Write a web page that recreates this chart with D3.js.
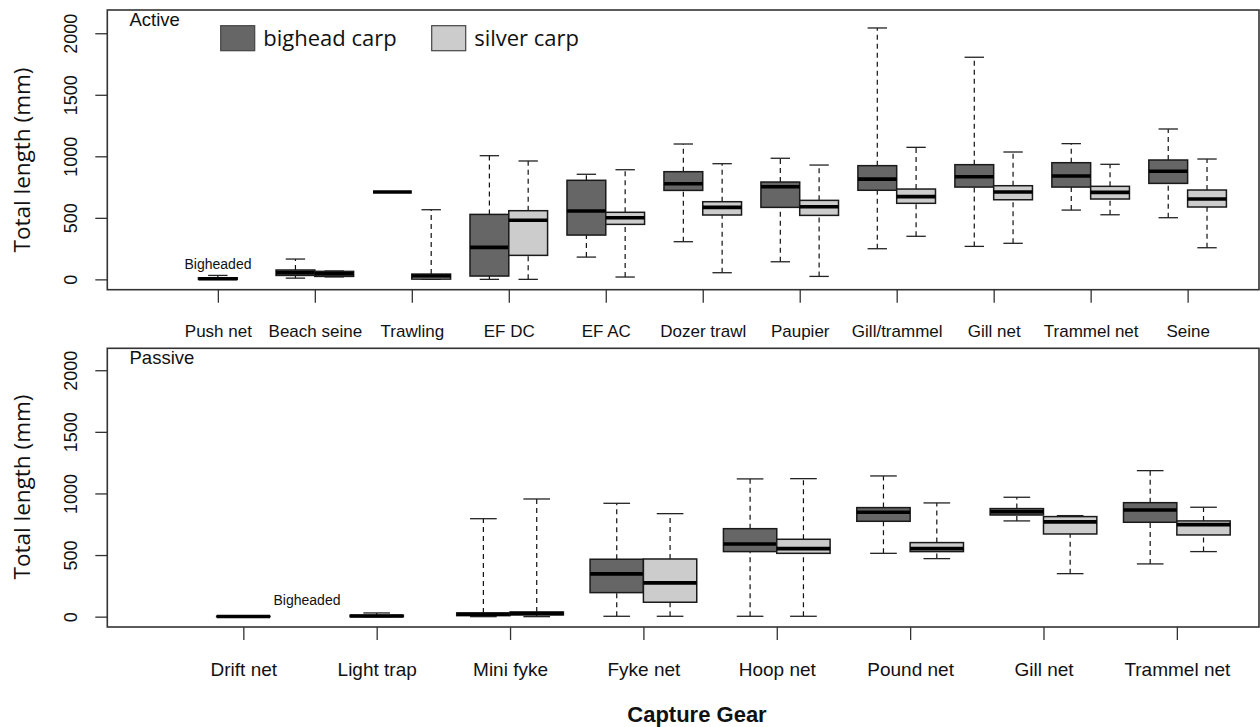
<!DOCTYPE html>
<html>
<head>
<meta charset="utf-8">
<script src="https://cdn.jsdelivr.net/npm/d3@7"></script>
<style>
  body { margin: 0; background: #fff; }
  svg { display: block; }
  .lab { font-family: "Liberation Sans", Arial, sans-serif; fill: #111; }
</style>
</head>
<body>
<svg id="chart" width="1260" height="727"></svg>
<script>
// stats are [lower whisker, Q1, median, Q3, upper whisker] in mm
var activeGear = ['Push net', 'Beach seine', 'Trawling', 'EF DC', 'EF AC', 'Dozer trawl',
                  'Paupier', 'Gill/trammel', 'Gill net', 'Trammel net', 'Seine'];
var activeBighead = [null, [10, 32, 54, 76, 165], [710, 710, 710, 710, 710], [0, 27, 260, 528, 1005],
                     [181, 360, 555, 805, 854], [306, 723, 777, 875, 1100], [143, 585, 753, 791, 984],
                     [249, 724, 815, 924, 2043], [268, 750, 834, 932, 1805], [563, 750, 840, 948, 1103],
                     [501, 780, 878, 970, 1222]];
var activeSilver = [null, [20, 24, 45, 65, 68], [0, 2, 27, 43, 566], [0, 195, 480, 558, 962],
                    [19, 447, 501, 545, 891], [54, 523, 585, 631, 940], [24, 520, 590, 642, 929],
                    [350, 618, 672, 734, 1073], [293, 647, 710, 761, 1035], [525, 653, 707, 756, 935],
                    [257, 588, 653, 726, 978]];
// fish only identified as "bigheaded" carp
var activeUnsplit = [[0, 0, 5, 13, 32], null, null, null, null, null, null, null, null, null, null];

var passiveGear = ['Drift net', 'Light trap', 'Mini fyke', 'Fyke net', 'Hoop net',
                   'Pound net', 'Gill net', 'Trammel net'];
var passiveBighead = [null, null, [0, 8, 19, 30, 795], [3, 195, 347, 466, 920], [3, 528, 590, 714, 1118],
                      [514, 774, 847, 885, 1142], [777, 825, 852, 877, 969], [428, 766, 866, 925, 1185]];
var passiveSilver = [null, null, [0, 14, 26, 38, 955], [3, 117, 274, 468, 836], [3, 514, 552, 628, 1120],
                     [471, 528, 552, 601, 923], [349, 671, 769, 812, 820], [528, 663, 747, 777, 888]];
var passiveUnsplit = [[0, 0, 1, 3, 3], [0, 0, 5, 11, 30], null, null, null, null, null, null];

var yTicks = [0, 500, 1000, 1500, 2000];
var bigheadFill = '#666666', silverFill = '#cccccc';

var svg = d3.select('#chart');

var drawPanel = function(opt) {
    var x = d3.scaleLinear().domain(opt.xDomain).range([107.3, 1259]);
    var y = d3.scaleLinear().domain(opt.yDomain).range([opt.bottom, opt.top]);
    var g = svg.append('g');
    var tickPos = opt.gear.map(function(d, i) { return 1.5 + 2.5 * i; });

    // list of boxes: centre position + stats + fill
    var boxes = [];
    opt.gear.forEach(function(name, i) {
        if (opt.unsplit[i]) boxes.push({ p: tickPos[i], s: opt.unsplit[i], fill: bigheadFill });
        if (opt.bighead[i]) boxes.push({ p: tickPos[i] - 0.5, s: opt.bighead[i], fill: bigheadFill });
        if (opt.silver[i]) boxes.push({ p: tickPos[i] + 0.5, s: opt.silver[i], fill: silverFill });
    });

    var b = g.selectAll('.box').data(boxes).enter().append('g').attr('class', 'box');
    // whiskers
    b.append('line')
        .attr('x1', function(d) { return x(d.p); }).attr('x2', function(d) { return x(d.p); })
        .attr('y1', function(d) { return y(d.s[0]); }).attr('y2', function(d) { return y(d.s[1]); })
        .attr('stroke', '#111').attr('stroke-width', 1.2).attr('stroke-dasharray', '5,4');
    b.append('line')
        .attr('x1', function(d) { return x(d.p); }).attr('x2', function(d) { return x(d.p); })
        .attr('y1', function(d) { return y(d.s[3]); }).attr('y2', function(d) { return y(d.s[4]); })
        .attr('stroke', '#111').attr('stroke-width', 1.2).attr('stroke-dasharray', '5,4');
    // staples
    [0, 4].forEach(function(k) {
        b.append('line')
            .attr('x1', function(d) { return x(d.p - 0.25); }).attr('x2', function(d) { return x(d.p + 0.25); })
            .attr('y1', function(d) { return y(d.s[k]); }).attr('y2', function(d) { return y(d.s[k]); })
            .attr('stroke', '#222').attr('stroke-width', 1.3);
    });
    b.append('rect')
        .attr('x', function(d) { return x(d.p - 0.5); })
        .attr('width', function(d) { return x(d.p + 0.5) - x(d.p - 0.5); })
        .attr('y', function(d) { return y(d.s[3]); })
        .attr('height', function(d) { return y(d.s[1]) - y(d.s[3]); })
        .attr('fill', function(d) { return d.fill; })
        .attr('stroke', '#1a1a1a').attr('stroke-width', 1.5);
    b.append('line')
        .attr('x1', function(d) { return x(d.p - 0.5); }).attr('x2', function(d) { return x(d.p + 0.5); })
        .attr('y1', function(d) { return y(d.s[2]); }).attr('y2', function(d) { return y(d.s[2]); })
        .attr('stroke', '#000').attr('stroke-width', 3.6);

    // frame
    g.append('rect')
        .attr('x', 107.3).attr('y', opt.top)
        .attr('width', 1259 - 107.3).attr('height', opt.bottom - opt.top)
        .attr('fill', 'none').attr('stroke', '#333').attr('stroke-width', 1.6);

    // y axis
    var ya = g.append('g').attr('transform', 'translate(107.3,0)')
        .call(d3.axisLeft(y).tickValues(yTicks).tickSize(12).tickFormat(d3.format('d')));
    ya.select('.domain').remove();
    ya.selectAll('line').attr('stroke', '#333').attr('stroke-width', 1.3);
    ya.selectAll('text')
        .attr('class', 'lab')
        .attr('transform', 'rotate(-90)')
        .attr('x', 0).attr('y', -30).attr('dy', 0)
        .attr('text-anchor', 'middle')
        .style('font-size', '18px').attr('fill', '#111');

    // x axis
    var xa = g.append('g').attr('transform', 'translate(0,' + opt.bottom + ')')
        .call(d3.axisBottom(x).tickValues(tickPos).tickSize(13)
            .tickFormat(function(d, i) { return opt.gear[i]; }));
    xa.select('.domain').remove();
    xa.selectAll('line').attr('stroke', '#333').attr('stroke-width', 1.3);
    xa.selectAll('text')
        .attr('class', 'lab')
        .attr('y', opt.labelOffset).attr('dy', 0)
        .style('font-size', opt.labelSize + 'px').attr('fill', '#111');

    g.append('text').attr('class', 'lab')
        .attr('x', 129.5).attr('y', opt.top + 16)
        .style('font-size', '18.5px').text(opt.title);

    g.append('text').attr('class', 'lab')
        .attr('x', opt.noteX).attr('y', opt.noteY)
        .attr('text-anchor', 'middle')
        .style('font-size', '14px').text('Bigheaded');

    g.append('text')
        .attr('transform', 'translate(30,' + opt.titleY + ') rotate(-90)')
        .attr('text-anchor', 'middle')
        .style('font-family', '"Open Sans", sans-serif').style('font-size', '22.5px')
        .attr('fill', '#111')
        .text('Total length (mm)');
};

drawPanel({
    gear: activeGear, bighead: activeBighead, silver: activeSilver, unsplit: activeUnsplit,
    xDomain: [-1.35, 28.34], yDomain: [-84, 2189], top: 10, bottom: 289.7,
    labelOffset: 47.8, labelSize: 17, title: 'Active', noteX: 218, noteY: 268.5, titleY: 160
});
drawPanel({
    gear: passiveGear, bighead: passiveBighead, silver: passiveSilver, unsplit: passiveUnsplit,
    xDomain: [-1.05, 20.54], yDomain: [-84, 2178], top: 348.3, bottom: 627,
    labelOffset: 49, labelSize: 19, title: 'Passive', noteX: 307, noteY: 605, titleY: 487
});

// legend
var legend = [{ name: 'bighead carp', fill: bigheadFill, x: 220.7 },
              { name: 'silver carp', fill: silverFill, x: 431.7 }];
var lg = svg.selectAll('.leg').data(legend).enter().append('g').attr('class', 'leg');
lg.append('rect')
    .attr('x', function(d) { return d.x; }).attr('y', 25.7)
    .attr('width', 34).attr('height', 25)
    .attr('fill', function(d) { return d.fill; })
    .attr('stroke', '#444').attr('stroke-width', 1.2);
lg.append('text')
    .attr('x', function(d) { return d.x + 42.5; }).attr('y', 45.5)
    .style('font-family', '"Open Sans", sans-serif').style('font-size', '22px')
    .attr('fill', '#111')
    .text(function(d) { return d.name; });

svg.append('text').attr('class', 'lab')
    .attr('x', 697).attr('y', 722)
    .attr('text-anchor', 'middle')
    .style('font-size', '22px').style('font-weight', 'bold')
    .text('Capture Gear');
</script>
</body>
</html>
